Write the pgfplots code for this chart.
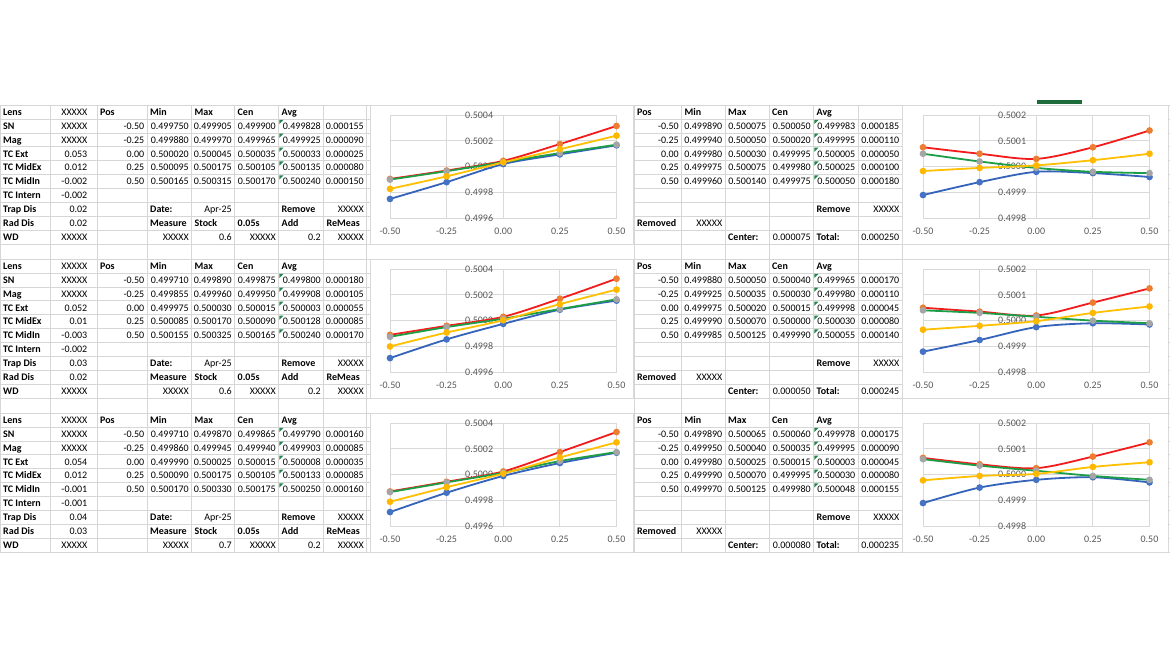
\documentclass[border=0pt]{standalone}
\usepackage{pgfplots}
\pgfplotsset{compat=1.18}
\usepackage{pgfplotstable}
\usepackage{fontspec}
\setmainfont{Carlito}

\definecolor{cellgrid}{HTML}{D6D6D6}
\definecolor{chartgrid}{HTML}{D9D9D9}
\definecolor{axistext}{HTML}{595959}
\definecolor{errgreen}{HTML}{1E8449}
\definecolor{selgreen}{HTML}{1E6B3C}
\definecolor{minline}{HTML}{3563BA}
\definecolor{minmark}{HTML}{4472C4}
\definecolor{maxline}{HTML}{F21C1C}
\definecolor{maxmark}{HTML}{ED7D31}
\definecolor{cenline}{HTML}{1B9E45}
\definecolor{cenmark}{HTML}{A5A5A5}
\definecolor{avgline}{HTML}{FFC000}
\definecolor{avgmark}{HTML}{FFB800}

% measurement tables: position, min, max, centre, average
\pgfplotstableread{
pos min max cen avg
-0.50 0.499750 0.499905 0.499900 0.499828
-0.25 0.499880 0.499970 0.499965 0.499925
0.00 0.500020 0.500045 0.500035 0.500033
0.25 0.500095 0.500175 0.500105 0.500135
0.50 0.500165 0.500315 0.500170 0.500240
}\tabA
\pgfplotstableread{
pos min max cen avg
-0.50 0.499890 0.500075 0.500050 0.499983
-0.25 0.499940 0.500050 0.500020 0.499995
0.00 0.499980 0.500030 0.499995 0.500005
0.25 0.499975 0.500075 0.499980 0.500025
0.50 0.499960 0.500140 0.499975 0.500050
}\tabB
\pgfplotstableread{
pos min max cen avg
-0.50 0.499710 0.499890 0.499875 0.499800
-0.25 0.499855 0.499960 0.499950 0.499908
0.00 0.499975 0.500030 0.500015 0.500003
0.25 0.500085 0.500170 0.500090 0.500128
0.50 0.500155 0.500325 0.500165 0.500240
}\tabC
\pgfplotstableread{
pos min max cen avg
-0.50 0.499880 0.500050 0.500040 0.499965
-0.25 0.499925 0.500035 0.500030 0.499980
0.00 0.499975 0.500020 0.500015 0.499998
0.25 0.499990 0.500070 0.500000 0.500030
0.50 0.499985 0.500125 0.499990 0.500055
}\tabD
\pgfplotstableread{
pos min max cen avg
-0.50 0.499710 0.499870 0.499865 0.499790
-0.25 0.499860 0.499945 0.499940 0.499903
0.00 0.499990 0.500025 0.500015 0.500008
0.25 0.500090 0.500175 0.500105 0.500133
0.50 0.500170 0.500330 0.500175 0.500250
}\tabE
\pgfplotstableread{
pos min max cen avg
-0.50 0.499890 0.500065 0.500060 0.499978
-0.25 0.499950 0.500040 0.500035 0.499995
0.00 0.499980 0.500025 0.500015 0.500003
0.25 0.499990 0.500070 0.499995 0.500030
0.50 0.499970 0.500125 0.499980 0.500048
}\tabF

% sheet columns (left block and right block)
\def\LcA{0}\def\LcB{50}\def\LcBr{90}\def\LcC{97}\def\LcD{147}\def\LcE{191.5}
\def\LcF{234.5}\def\LcG{278.5}\def\LcH{323.5}\def\LcI{366.5}
\def\RcA{634}\def\RcB{681.5}\def\RcC{725}\def\RcD{769}\def\RcE{813.5}\def\RcF{858}\def\RcG{902}

\newcommand\cellL[3]{\node[anchor=base west,inner sep=0pt] at ({#1+3},{\by+6.95+13.9*(#2)+3.3}) {#3};}
\newcommand\cellR[3]{\node[anchor=base east,inner sep=0pt] at ({#1-2.5},{\by+6.95+13.9*(#2)+3.3}) {#3};}
\newcommand\errmark[2]{\fill[errgreen] ({#1+0.8},{\by+13.9*(#2)+0.8}) -- ++(4.2,0) -- ++(-4.2,4.2) -- cycle;}

\newcommand\leftrow[7]{\cellR{\LcD}{#1}{#2}\cellR{\LcE}{#1}{#3}\cellR{\LcF}{#1}{#4}%
  \cellR{\LcG}{#1}{#5}\cellR{\LcH}{#1}{#6}\cellR{\LcI}{#1}{#7}\errmark{\LcG}{#1}}
\newcommand\rightrow[7]{\cellR{\RcB}{#1}{#2}\cellR{\RcC}{#1}{#3}\cellR{\RcD}{#1}{#4}%
  \cellR{\RcE}{#1}{#5}\cellR{\RcF}{#1}{#6}\cellR{\RcG}{#1}{#7}\errmark{\RcE}{#1}}

\newcommand\leftstatic[7]{%
  \cellL{\LcA}{0}{\bfseries Lens}\cellR{\LcBr}{0}{XXXXX}
  \cellL{\LcC}{0}{\bfseries Pos}\cellL{\LcD}{0}{\bfseries Min}\cellL{\LcE}{0}{\bfseries Max}
  \cellL{\LcF}{0}{\bfseries Cen}\cellL{\LcG}{0}{\bfseries Avg}
  \cellL{\LcA}{1}{\bfseries SN}\cellR{\LcBr}{1}{XXXXX}
  \cellL{\LcA}{2}{\bfseries Mag}\cellR{\LcBr}{2}{XXXXX}
  \cellL{\LcA}{3}{\bfseries TC Ext}\cellR{\LcBr}{3}{#1}
  \cellL{\LcA}{4}{\bfseries TC MidEx}\cellR{\LcBr}{4}{#2}
  \cellL{\LcA}{5}{\bfseries TC MidIn}\cellR{\LcBr}{5}{#3}
  \cellL{\LcA}{6}{\bfseries TC Intern}\cellR{\LcBr}{6}{#4}
  \cellL{\LcA}{7}{\bfseries Trap Dis}\cellR{\LcBr}{7}{#5}
  \cellL{\LcA}{8}{\bfseries Rad Dis}\cellR{\LcBr}{8}{#6}
  \cellL{\LcA}{9}{\bfseries WD}\cellR{\LcBr}{9}{XXXXX}
  \cellL{\LcD}{7}{\bfseries Date:}\cellR{\LcF}{7}{Apr-25}\cellL{\LcG}{7}{\bfseries Remove}\cellR{\LcI}{7}{XXXXX}
  \cellL{\LcD}{8}{\bfseries Measure}\cellL{\LcE}{8}{\bfseries Stock}\cellL{\LcF}{8}{\bfseries 0.05s}
  \cellL{\LcG}{8}{\bfseries Add}\cellL{\LcH}{8}{\bfseries ReMeas}
  \cellR{\LcE}{9}{XXXXX}\cellR{\LcF}{9}{#7}\cellR{\LcG}{9}{XXXXX}\cellR{\LcH}{9}{0.2}\cellR{\LcI}{9}{XXXXX}}

\newcommand\rightstatic[2]{%
  \cellL{\RcA}{0}{\bfseries Pos}\cellL{\RcB}{0}{\bfseries Min}\cellL{\RcC}{0}{\bfseries Max}
  \cellL{\RcD}{0}{\bfseries Cen}\cellL{\RcE}{0}{\bfseries Avg}
  \cellL{\RcE}{7}{\bfseries Remove}\cellR{\RcG}{7}{XXXXX}
  \cellL{\RcA}{8}{\bfseries Removed}\cellR{\RcC}{8}{XXXXX}
  \cellL{\RcC}{9}{\bfseries Center:}\cellR{\RcE}{9}{#1}\cellL{\RcE}{9}{\bfseries Total:}\cellR{\RcG}{9}{#2}}

\pgfplotsset{
  xlsx/.style={
    scale only axis, width=226.5pt, height=103.3pt, anchor=south west,
    xmin=-0.5, xmax=0.5,
    xtick={-0.5,-0.25,0,0.25,0.5},
    xticklabels={-0.50,-0.25,0.00,0.25,0.50},
    grid=major,
    major grid style={draw=chartgrid, line width=0.8pt},
    axis line style={draw=none},
    major tick length=0pt,
    ticklabel style={font=\fontsize{10}{12}\selectfont, text=axistext},
    xticklabel style={yshift=-6.2pt},
    yticklabel style={anchor=east, xshift=106.6pt},
    clip=false,
    every axis plot/.append style={smooth, line width=1.8pt, mark=*, mark size=2.4pt},
  },
  lefty/.style={ymin=0.4996, ymax=0.5004,
    ytick={0.4996,0.4998,0.5,0.5002,0.5004},
    yticklabels={0.4996,0.4998,0.5000,0.5002,0.5004}},
  righty/.style={ymin=0.4998, ymax=0.5002,
    ytick={0.4998,0.4999,0.5,0.5001,0.5002},
    yticklabels={0.4998,0.4999,0.5000,0.5001,0.5002}},
}

\newcommand\series[1]{%
  \addplot[draw=minline, mark options={draw=minmark,fill=minmark}] table[x=pos,y=min]{#1};
  \addplot[draw=maxline, mark options={draw=maxmark,fill=maxmark}] table[x=pos,y=max]{#1};
  \addplot[draw=cenline, mark options={draw=cenmark,fill=cenmark}] table[x=pos,y=cen]{#1};
  \addplot[draw=avgline, mark options={draw=avgmark,fill=avgmark}] table[x=pos,y=avg]{#1};
}

\begin{document}
\begin{tikzpicture}
\begin{scope}[x=1pt,y=-1pt]
  \fill[white] (0,0) rectangle (1170,658);
  \useasboundingbox (0,0) rectangle (1170,658);
  % sheet grid
  \foreach \b in {0,1,2}{
    \foreach \k in {0,...,10}
      \draw[cellgrid,line width=0.7pt] (0,{105.1+154*\b+13.9*\k}) -- (1170,{105.1+154*\b+13.9*\k});
  }
  \foreach \x in {0.4,\LcB,\LcC,\LcD,\LcE,\LcF,\LcG,\LcH,\LcI,\RcA,\RcB,\RcC,\RcD,\RcE,\RcF,\RcG,1168}
    \draw[cellgrid,line width=0.7pt] (\x,105.1) -- (\x,552.1);
  % chart areas
  \foreach \b in {0,1,2}{
    \filldraw[fill=white,draw=chartgrid,line width=0.8pt] (370,{105.1+154*\b}) rectangle (633,{244.1+154*\b});
    \filldraw[fill=white,draw=chartgrid,line width=0.8pt] (902.7,{105.1+154*\b}) rectangle (1168,{244.1+154*\b});
  }
  \fill[selgreen] (1037,100) rectangle (1082,104.3);

  \fontsize{10}{12}\selectfont
  % block 1
  \def\by{105.1}
  \leftstatic{0.053}{0.012}{-0.002}{-0.002}{0.02}{0.02}{0.6}
  \leftrow{1}{-0.50}{0.499750}{0.499905}{0.499900}{0.499828}{0.000155}
  \leftrow{2}{-0.25}{0.499880}{0.499970}{0.499965}{0.499925}{0.000090}
  \leftrow{3}{0.00}{0.500020}{0.500045}{0.500035}{0.500033}{0.000025}
  \leftrow{4}{0.25}{0.500095}{0.500175}{0.500105}{0.500135}{0.000080}
  \leftrow{5}{0.50}{0.500165}{0.500315}{0.500170}{0.500240}{0.000150}
  \rightstatic{0.000075}{0.000250}
  \rightrow{1}{-0.50}{0.499890}{0.500075}{0.500050}{0.499983}{0.000185}
  \rightrow{2}{-0.25}{0.499940}{0.500050}{0.500020}{0.499995}{0.000110}
  \rightrow{3}{0.00}{0.499980}{0.500030}{0.499995}{0.500005}{0.000050}
  \rightrow{4}{0.25}{0.499975}{0.500075}{0.499980}{0.500025}{0.000100}
  \rightrow{5}{0.50}{0.499960}{0.500140}{0.499975}{0.500050}{0.000180}
  % block 2
  \def\by{259.1}
  \leftstatic{0.052}{0.01}{-0.003}{-0.002}{0.03}{0.02}{0.6}
  \leftrow{1}{-0.50}{0.499710}{0.499890}{0.499875}{0.499800}{0.000180}
  \leftrow{2}{-0.25}{0.499855}{0.499960}{0.499950}{0.499908}{0.000105}
  \leftrow{3}{0.00}{0.499975}{0.500030}{0.500015}{0.500003}{0.000055}
  \leftrow{4}{0.25}{0.500085}{0.500170}{0.500090}{0.500128}{0.000085}
  \leftrow{5}{0.50}{0.500155}{0.500325}{0.500165}{0.500240}{0.000170}
  \rightstatic{0.000050}{0.000245}
  \rightrow{1}{-0.50}{0.499880}{0.500050}{0.500040}{0.499965}{0.000170}
  \rightrow{2}{-0.25}{0.499925}{0.500035}{0.500030}{0.499980}{0.000110}
  \rightrow{3}{0.00}{0.499975}{0.500020}{0.500015}{0.499998}{0.000045}
  \rightrow{4}{0.25}{0.499990}{0.500070}{0.500000}{0.500030}{0.000080}
  \rightrow{5}{0.50}{0.499985}{0.500125}{0.499990}{0.500055}{0.000140}
  % block 3
  \def\by{413.1}
  \leftstatic{0.054}{0.012}{-0.001}{-0.001}{0.04}{0.03}{0.7}
  \leftrow{1}{-0.50}{0.499710}{0.499870}{0.499865}{0.499790}{0.000160}
  \leftrow{2}{-0.25}{0.499860}{0.499945}{0.499940}{0.499903}{0.000085}
  \leftrow{3}{0.00}{0.499990}{0.500025}{0.500015}{0.500008}{0.000035}
  \leftrow{4}{0.25}{0.500090}{0.500175}{0.500105}{0.500133}{0.000085}
  \leftrow{5}{0.50}{0.500170}{0.500330}{0.500175}{0.500250}{0.000160}
  \rightstatic{0.000080}{0.000235}
  \rightrow{1}{-0.50}{0.499890}{0.500065}{0.500060}{0.499978}{0.000175}
  \rightrow{2}{-0.25}{0.499950}{0.500040}{0.500035}{0.499995}{0.000090}
  \rightrow{3}{0.00}{0.499980}{0.500025}{0.500015}{0.500003}{0.000045}
  \rightrow{4}{0.25}{0.499990}{0.500070}{0.499995}{0.500030}{0.000080}
  \rightrow{5}{0.50}{0.499970}{0.500125}{0.499980}{0.500048}{0.000155}
\end{scope}

% charts
\begin{axis}[xlsx, lefty, at={(390pt,-218.3pt)}] \series{\tabA} \end{axis}
\begin{axis}[xlsx, righty, at={(923pt,-218.3pt)}] \series{\tabB} \end{axis}
\begin{axis}[xlsx, lefty, at={(390pt,-372.3pt)}] \series{\tabC} \end{axis}
\begin{axis}[xlsx, righty, at={(923pt,-372.3pt)}] \series{\tabD} \end{axis}
\begin{axis}[xlsx, lefty, at={(390pt,-526.3pt)}] \series{\tabE} \end{axis}
\begin{axis}[xlsx, righty, at={(923pt,-526.3pt)}] \series{\tabF} \end{axis}
\end{tikzpicture}
\end{document}
